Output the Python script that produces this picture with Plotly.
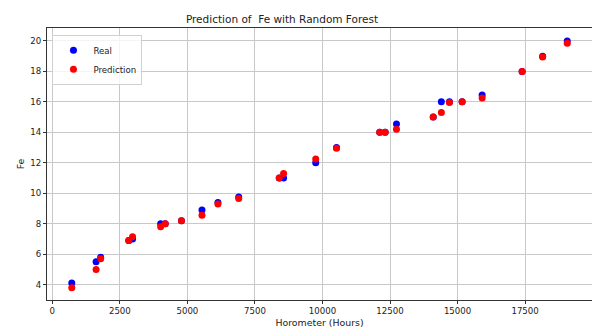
import plotly.graph_objects as go

# Data
horometer = [720, 1620, 1790, 2830, 2970, 4010, 4180, 4780, 5540, 6130, 6900,
             8400, 8560, 9750, 10520, 12120, 12320, 12740, 14100, 14400, 14700,
             15170, 15910, 17390, 18150, 19060]
fe_real = [4.1, 5.5, 5.8, 6.9, 7.0, 8.0, 8.0, 8.2, 8.9, 9.4, 9.75,
           11.0, 11.0, 12.0, 13.0, 14.0, 14.0, 14.55, 15.0, 16.0, 16.0,
           16.0, 16.45, 18.0, 19.0, 20.0]
fe_pred = [3.8, 5.0, 5.7, 6.9, 7.15, 7.8, 8.0, 8.2, 8.55, 9.3, 9.65,
           11.0, 11.3, 12.25, 12.95, 14.0, 14.0, 14.2, 15.0, 15.3, 15.95,
           16.0, 16.25, 18.0, 18.95, 19.85]
x_ticks = [0, 2500, 5000, 7500, 10000, 12500, 15000, 17500]
y_ticks = [4, 6, 8, 10, 12, 14, 16, 18, 20]

FONT = "DejaVu Sans"

fig = go.Figure()
fig.add_trace(go.Scatter(x=horometer, y=fe_real, mode="markers", name="Real",
                         marker=dict(color="#0000ff", size=7, line=dict(width=0))))
fig.add_trace(go.Scatter(x=horometer, y=fe_pred, mode="markers", name="Prediction",
                         marker=dict(color="#ff0000", size=7, line=dict(width=0))))

axis_common = dict(
    showgrid=True, gridcolor="#c8c8c8", gridwidth=1,
    showline=True, linecolor="#333333", linewidth=1, mirror=True,
    ticks="outside", ticklen=3, tickcolor="#333333", tickwidth=1,
    zeroline=False, tickfont=dict(family=FONT, size=8.6, color="#222222"),
)

fig.update_layout(
    width=592, height=329, autosize=False,
    margin=dict(l=47, r=0, t=28, b=29),
    paper_bgcolor="white", plot_bgcolor="white",
    font=dict(family=FONT, color="#222222"),
    title=dict(text="Prediction of  Fe with Random Forest",
               x=282 / 592, xanchor="center", y=1 - 19 / 329, yanchor="middle",
               font=dict(family=FONT, size=10.5, color="#222222")),
    xaxis=dict(range=[-197, 19977], tickvals=x_ticks,
               ticktext=[str(v) for v in x_ticks],
               title=dict(text="Horometer (Hours)", standoff=4,
                          font=dict(family=FONT, size=9.4, color="#222222")),
               automargin=False, **axis_common),
    yaxis=dict(range=[2.99, 20.85], tickvals=y_ticks,
               ticktext=[str(v) for v in y_ticks],
               title=dict(text="Fe", standoff=4,
                          font=dict(family=FONT, size=9.4, color="#222222")),
               automargin=False, **axis_common),
    legend=dict(x=0.01, y=0.975, xanchor="left", yanchor="top",
                bgcolor="rgba(255,255,255,0.8)", bordercolor="#d0d0d0", borderwidth=1,
                font=dict(family=FONT, size=8.6, color="#222222"),
                itemsizing="trace", tracegroupgap=0, itemwidth=30),
    showlegend=True,
)

fig.write_html("out.html",
               config={"displayModeBar": False},
               post_script="document.body.style.margin='0';document.body.style.padding='0';")
